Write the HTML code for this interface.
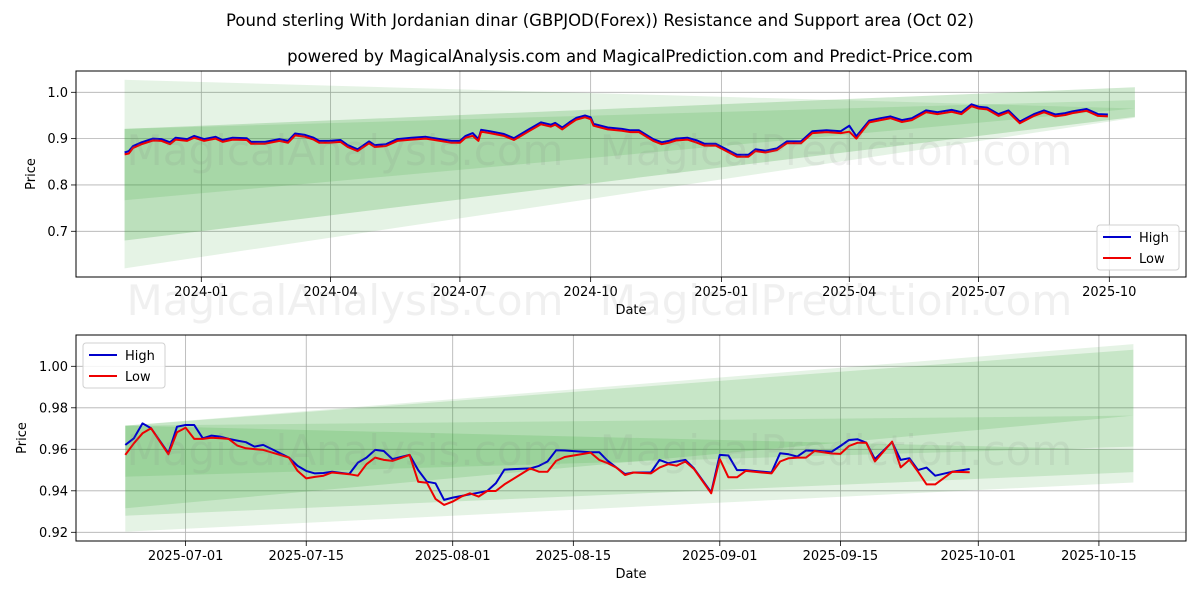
<!DOCTYPE html>
<html><head><meta charset="utf-8">
<style>
html,body{margin:0;padding:0;background:#fff;}
svg{display:block;font-family:"DejaVu Sans","Liberation Sans",sans-serif;}
</style></head>
<body>
<svg id="chart" width="1200" height="600" viewBox="0 0 1200 600" xmlns="http://www.w3.org/2000/svg">
<text x="600" y="26" text-anchor="middle" font-size="16.5" fill="#000">Pound sterling With Jordanian dinar (GBPJOD(Forex)) Resistance and Support area (Oct 02)</text>
<text x="630" y="62" text-anchor="middle" font-size="16.5" fill="#000">powered by MagicalAnalysis.com and MagicalPrediction.com and Predict-Price.com</text>
<g id="top"></g>
<g id="bot"></g>
<g id="wm"></g>
</svg>
<script>
// ---- top chart data (days since 2024-01-01) ----
const topDays = [-54,-51,-48,-42,-34,-28,-22,-18,-10,-5,2,10,15,22,32,35,45,55,61,66,73,79,83,90,98,103,110,118,122,130,138,148,158,168,176,182,186,191,195,197,203,213,220,225,231,239,246,249,254,259,264,270,274,276,286,296,302,308,318,324,329,334,342,349,354,362,367,377,385,390,397,405,412,422,430,440,450,456,461,470,478,485,493,500,510,518,528,535,542,547,553,561,568,576,586,593,601,608,613,623,631,638];
const topHigh = [0.870,0.873,0.884,0.892,0.900,0.899,0.892,0.902,0.899,0.906,0.899,0.904,0.897,0.902,0.901,0.893,0.893,0.899,0.895,0.911,0.908,0.902,0.895,0.895,0.897,0.886,0.877,0.894,0.886,0.888,0.899,0.902,0.904,0.899,0.895,0.895,0.906,0.912,0.899,0.919,0.916,0.910,0.901,0.910,0.921,0.935,0.930,0.934,0.924,0.935,0.945,0.950,0.946,0.932,0.924,0.921,0.918,0.918,0.899,0.892,0.895,0.900,0.902,0.896,0.889,0.889,0.881,0.865,0.865,0.877,0.874,0.879,0.894,0.894,0.916,0.918,0.916,0.928,0.905,0.939,0.944,0.948,0.940,0.944,0.961,0.957,0.962,0.957,0.974,0.969,0.967,0.953,0.961,0.937,0.953,0.961,0.952,0.955,0.959,0.964,0.953,0.952];
const topLow = [0.866,0.868,0.880,0.888,0.896,0.895,0.888,0.898,0.895,0.902,0.895,0.900,0.893,0.898,0.897,0.889,0.889,0.895,0.891,0.907,0.904,0.898,0.891,0.891,0.893,0.882,0.873,0.890,0.882,0.884,0.895,0.898,0.900,0.895,0.891,0.891,0.902,0.906,0.895,0.915,0.912,0.906,0.897,0.906,0.917,0.931,0.926,0.930,0.920,0.931,0.941,0.946,0.942,0.928,0.920,0.917,0.914,0.914,0.895,0.888,0.891,0.896,0.898,0.891,0.885,0.885,0.877,0.861,0.861,0.873,0.870,0.875,0.890,0.890,0.912,0.914,0.912,0.915,0.900,0.935,0.940,0.944,0.936,0.940,0.957,0.953,0.958,0.953,0.970,0.965,0.963,0.949,0.957,0.933,0.949,0.957,0.948,0.951,0.955,0.960,0.949,0.948];
const topBandStart = -54, topBandEnd = 657;
// bands: [startLow, startHigh, endLow, endHigh]
const topBands = [[0.62,1.027,0.945,0.965],[0.68,0.921,0.947,1.011],[0.767,0.921,0.965,0.983]];
const topYTicks = [0.7,0.8,0.9,1.0];
const topYLabels = ["0.7","0.8","0.9","1.0"];
const topXTicks = [0,91,182,274,366,456,547,639];
const topXLabels = ["2024-01","2024-04","2024-07","2024-10","2025-01","2025-04","2025-07","2025-10"];

// ---- bottom chart data (days since 2025-06-24) ----
const botDays = [0,1,2,3,5,6,7,8,9,10,11,12,13,14,15,16,19,20,21,22,23,24,26,27,28,29,30,31,33,34,35,36,37,38,39,40,41,42,43,44,47,48,49,50,51,54,55,56,57,58,59,61,62,63,64,65,66,68,69,70,71,72,75,76,77,78,79,80,82,83,84,85,86,87,89,90,91,92,93,94,96,98];
const botHigh = [.9621,.9653,.9725,.9701,.9581,.9709,.9717,.9717,.9653,.9666,.9661,.9650,.9642,.9634,.9613,.9621,.9560,.9520,.9496,.9484,.9486,.9492,.9481,.9536,.9560,.9597,.9592,.9553,.9573,.9500,.9444,.9436,.9356,.9367,.9375,.9383,.9391,.9399,.9436,.9502,.9508,.9520,.9541,.9595,.9594,.9586,.9586,.9544,.9512,.9481,.9488,.9488,.9549,.9533,.9541,.9549,.9508,.9393,.9573,.9570,.9500,.9500,.9488,.9581,.9576,.9565,.9594,.9593,.9589,.9616,.9645,.9648,.9632,.9553,.9634,.9549,.9557,.9500,.9512,.9473,.9492,.9505];
const botLow = [.9573,.9629,.9677,.9701,.9576,.9682,.9704,.9650,.9650,.9656,.9653,.9650,.9618,.9605,.9601,.9597,.9560,.9496,.9460,.9467,.9473,.9488,.9480,.9473,.9528,.9560,.9549,.9544,.9573,.9444,.9439,.9361,.9332,.9348,.9372,.9388,.9372,.9399,.9399,.9431,.9508,.9492,.9492,.9544,.9563,.9584,.9549,.9533,.9512,.9476,.9488,.9484,.9512,.9528,.9521,.9541,.9505,.9388,.9553,.9465,.9465,.9496,.9484,.9541,.9557,.9560,.9560,.9592,.9580,.9578,.9616,.9632,.9632,.9541,.9637,.9513,.9549,.9492,.9431,.9431,.9492,.9489];
const botBandStart = 0, botBandEnd = 117;
const botBands = [[0.9203,0.9714,0.944,1.0107],[0.928,0.9714,0.949,0.9597],[0.9316,0.9714,0.9762,1.008],[0.9468,0.9714,0.9613,0.9762]];
const botYTicks = [0.92,0.94,0.96,0.98,1.00];
const botYLabels = ["0.92","0.94","0.96","0.98","1.00"];
const botXTicks = [7,21,38,52,69,83,99,113];
const botXLabels = ["2025-07-01","2025-07-15","2025-08-01","2025-08-15","2025-09-01","2025-09-15","2025-10-01","2025-10-15"];

const NS = "http://www.w3.org/2000/svg";
function mk(tag, attrs, parent){
  const e = document.createElementNS(NS, tag);
  for (const k in attrs) e.setAttribute(k, attrs[k]);
  parent.appendChild(e); return e;
}

function panel(g, cfg){
  const L=76, R=1186, T=cfg.top, B=cfg.bottom;
  const sx = d => cfg.x0 + cfg.xs * d;
  const sy = v => cfg.y0 - (v - cfg.v0) * cfg.ys;
  // grid
  cfg.xt.forEach((d,i)=>{
    const gl = mk("line",{x1:sx(d),x2:sx(d),y1:T,y2:B,stroke:"#b0b0b0","stroke-width":0.8},g);
    
    
    const tk = mk("line",{x1:sx(d),x2:sx(d),y1:B,y2:B+5,stroke:"#000","stroke-width":0.8},g);
    
    
    const tl = mk("text",{x:sx(d),y:B+19,"text-anchor":"middle","font-size":13},g);
    tl.textContent = cfg.xl[i];
    
    
  });
  cfg.yt.forEach((v,i)=>{
    const gl = mk("line",{x1:L,x2:R,y1:sy(v),y2:sy(v),stroke:"#b0b0b0","stroke-width":0.8},g);
    
    
    const tk = mk("line",{x1:L-5,x2:L,y1:sy(v),y2:sy(v),stroke:"#000","stroke-width":0.8},g);
    
    
    const tl = mk("text",{x:L-8,y:sy(v)+4.5,"text-anchor":"end","font-size":13},g);
    tl.textContent = cfg.yl[i];
    
    
  });
  // bands
  cfg.bands.forEach((b,i)=>{
    const x1=sx(cfg.bs), x2=sx(cfg.be);
    const p = mk("polygon",{points:`${x1},${sy(b[1])} ${x2},${sy(b[3])} ${x2},${sy(b[2])} ${x1},${sy(b[0])}`,fill:"#2ca02c","fill-opacity":cfg.op[i]},g);
    
    
  });
  // lines
  const pts = arr => cfg.days.map((d,i)=>`${sx(d).toFixed(1)},${sy(arr[i]).toFixed(1)}`).join(" ");
  const hl = mk("polyline",{points:pts(cfg.hi),fill:"none",stroke:"#0000cc","stroke-width":2,"stroke-linejoin":"round"},g);
  
  
  const ll = mk("polyline",{points:pts(cfg.lo),fill:"none",stroke:"#ee0000","stroke-width":2,"stroke-linejoin":"round"},g);
  
  
  // frame
  const fr = mk("rect",{x:L,y:T,width:R-L,height:B-T,fill:"none",stroke:"#000","stroke-width":1},g);
  
  
  const xa = mk("text",{x:631,y:B+37,"text-anchor":"middle","font-size":13},g);
  xa.textContent="Date";
  
  
  const ya = mk("text",{x:0,y:0,"text-anchor":"middle","font-size":13,transform:`translate(${cfg.yax},${(T+B)/2}) rotate(-90)`},g);
  ya.textContent="Price";
  
  
  // legend
  const lx=cfg.lx, ly=cfg.ly;
  const lg = mk("g",{},g);
  
  
  mk("rect",{x:lx,y:ly,width:82,height:45,rx:3,fill:"#fff","fill-opacity":0.85,stroke:"#d0d0d0"},lg);
  [["High","#0000cc"],["Low","#ee0000"]].forEach((e,i)=>{
    const en = mk("g",{},lg);
    
    
    mk("line",{x1:lx+6,x2:lx+34,y1:ly+12+i*21,y2:ly+12+i*21,stroke:e[1],"stroke-width":2},en);
    const t = mk("text",{x:lx+42,y:ly+17+i*21,"font-size":13},en);
    t.textContent=e[0];
  });
}

panel(document.getElementById("top"),{
  top:71,bottom:277,x0:201.3,xs:1.421,y0:92.3,v0:1.0,ys:463.3,
  xt:topXTicks,xl:topXLabels,yt:topYTicks,yl:topYLabels,
  bands:topBands,bs:topBandStart,be:topBandEnd,op:[0.12,0.22,0.14],
  days:topDays,hi:topHigh,lo:topLow,yax:35,lx:1097,ly:225
});
panel(document.getElementById("bot"),{
  top:335,bottom:541,x0:125.3,xs:8.616,y0:366.3,v0:1.0,ys:2075,
  xt:botXTicks,xl:botXLabels,yt:botYTicks,yl:botYLabels,
  bands:botBands,bs:botBandStart,be:botBandEnd,op:[0.12,0.16,0.16,0.14],
  days:botDays,hi:botHigh,lo:botLow,yax:26,lx:83,ly:343
});

const wm = document.getElementById("wm");
[[150],[300],[450]].forEach(r=>{
  [["MagicalAnalysis.com",345],["MagicalPrediction.com",836]].forEach(w=>{
    const t = mk("text",{x:w[1],y:r[0]+15,"text-anchor":"middle","font-size":42,fill:"#808080","fill-opacity":0.12},wm);
    t.textContent=w[0];
    
    
  });
});
</script>
</body></html>
